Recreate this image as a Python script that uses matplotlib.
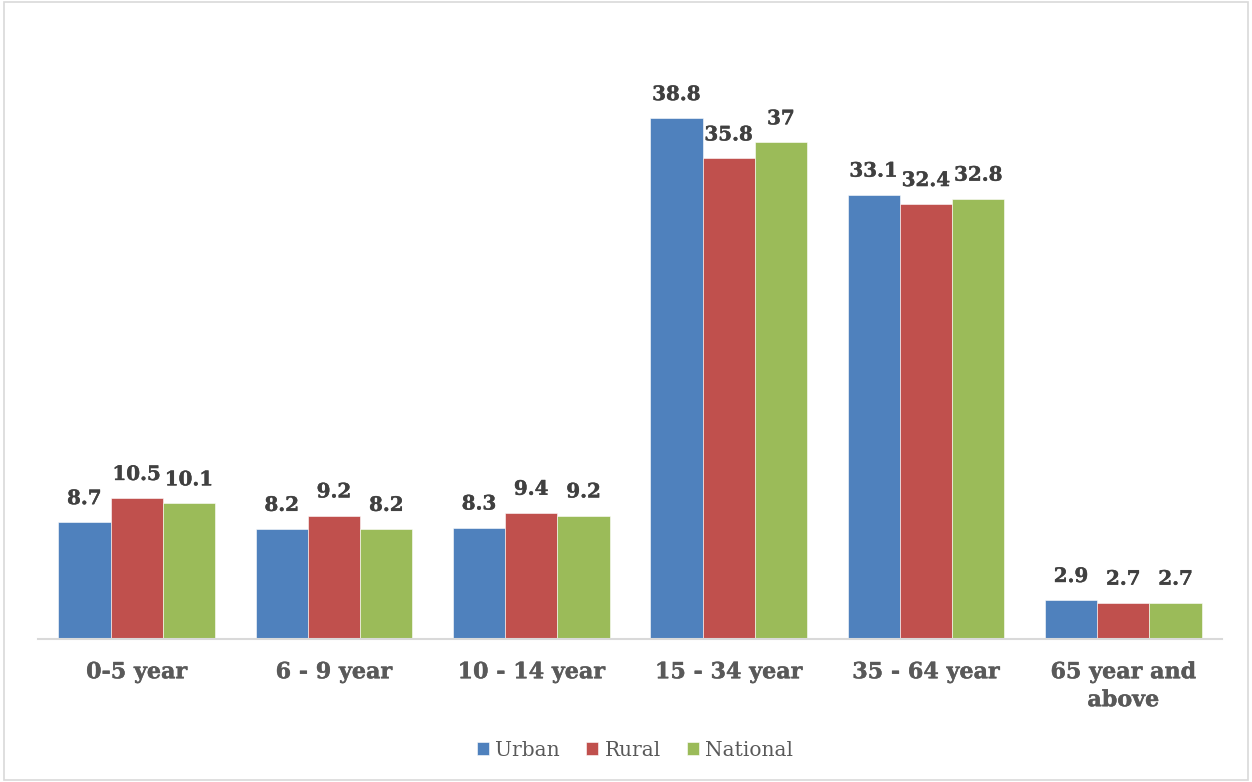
import matplotlib.pyplot as plt
import matplotlib.patheffects as pe
import numpy as np

# age distribution (%) by area
groups = ["0-5 year", "6 - 9 year", "10 - 14 year", "15 - 34 year", "35 - 64 year", "65 year and\nabove"]
urban = [8.7, 8.2, 8.3, 38.8, 33.1, 2.9]
rural = [10.5, 9.2, 9.4, 35.8, 32.4, 2.7]
national = [10.1, 8.2, 9.2, 37, 32.8, 2.7]

series = [("Urban", urban, "#4F81BD"), ("Rural", rural, "#C0504D"), ("National", national, "#9BBB59")]

plt.rcParams['font.family'] = ['DejaVu Serif']

fig = plt.figure(figsize=(12.52, 7.82), dpi=100)
ax = fig.add_axes([38 / 1252, 1 - 639 / 782, 1184 / 1252, 604 / 782])

# a thin stroke makes the bold labels a bit heavier
heavy_dark = [pe.withStroke(linewidth=0.3, foreground="#404040")]
heavy_grey = [pe.withStroke(linewidth=0.3, foreground="#595959")]

x = np.arange(len(groups))
w = 0.265
for i, (name, vals, col) in enumerate(series):
    pos = x + (i - 1) * w
    ax.bar(pos, vals, w, color=col, label=name, edgecolor="white", linewidth=0.4)
    for xp, v in zip(pos, vals):
        ax.text(xp, v + 1.05, f"{v:g}", ha="center", va="bottom", fontsize=14.3,
                fontweight="bold", color="#404040", path_effects=heavy_dark)

ax.set_xlim(-0.5, len(groups) - 0.5)
ax.set_ylim(0, 45)
ax.set_yticks([])
ax.set_xticks(x)
ax.set_xticklabels(groups, fontsize=16, fontweight="bold", color="#595959", linespacing=1.35)
for t in ax.get_xticklabels():
    t.set_path_effects(heavy_grey)
ax.tick_params(axis="x", length=0, pad=16)
for s in ["top", "right", "left"]:
    ax.spines[s].set_visible(False)
ax.spines["bottom"].set_color("#D9D9D9")
ax.spines["bottom"].set_linewidth(1.5)

leg = fig.legend(loc="center", bbox_to_anchor=(635 / 1252, 1 - 750 / 782), ncol=3,
                 frameon=False, fontsize=14.5, handlelength=0.62, handleheight=0.62,
                 handletextpad=0.3, columnspacing=1.3)
for t in leg.get_texts():
    t.set_color("#595959")

# light frame around the whole chart
fig.patches.append(plt.Rectangle((0.003, 0.003), 0.994, 0.994, transform=fig.transFigure,
                                 fill=False, edgecolor="#D9D9D9", linewidth=1.2))

fig.savefig("out.png", dpi=100)
